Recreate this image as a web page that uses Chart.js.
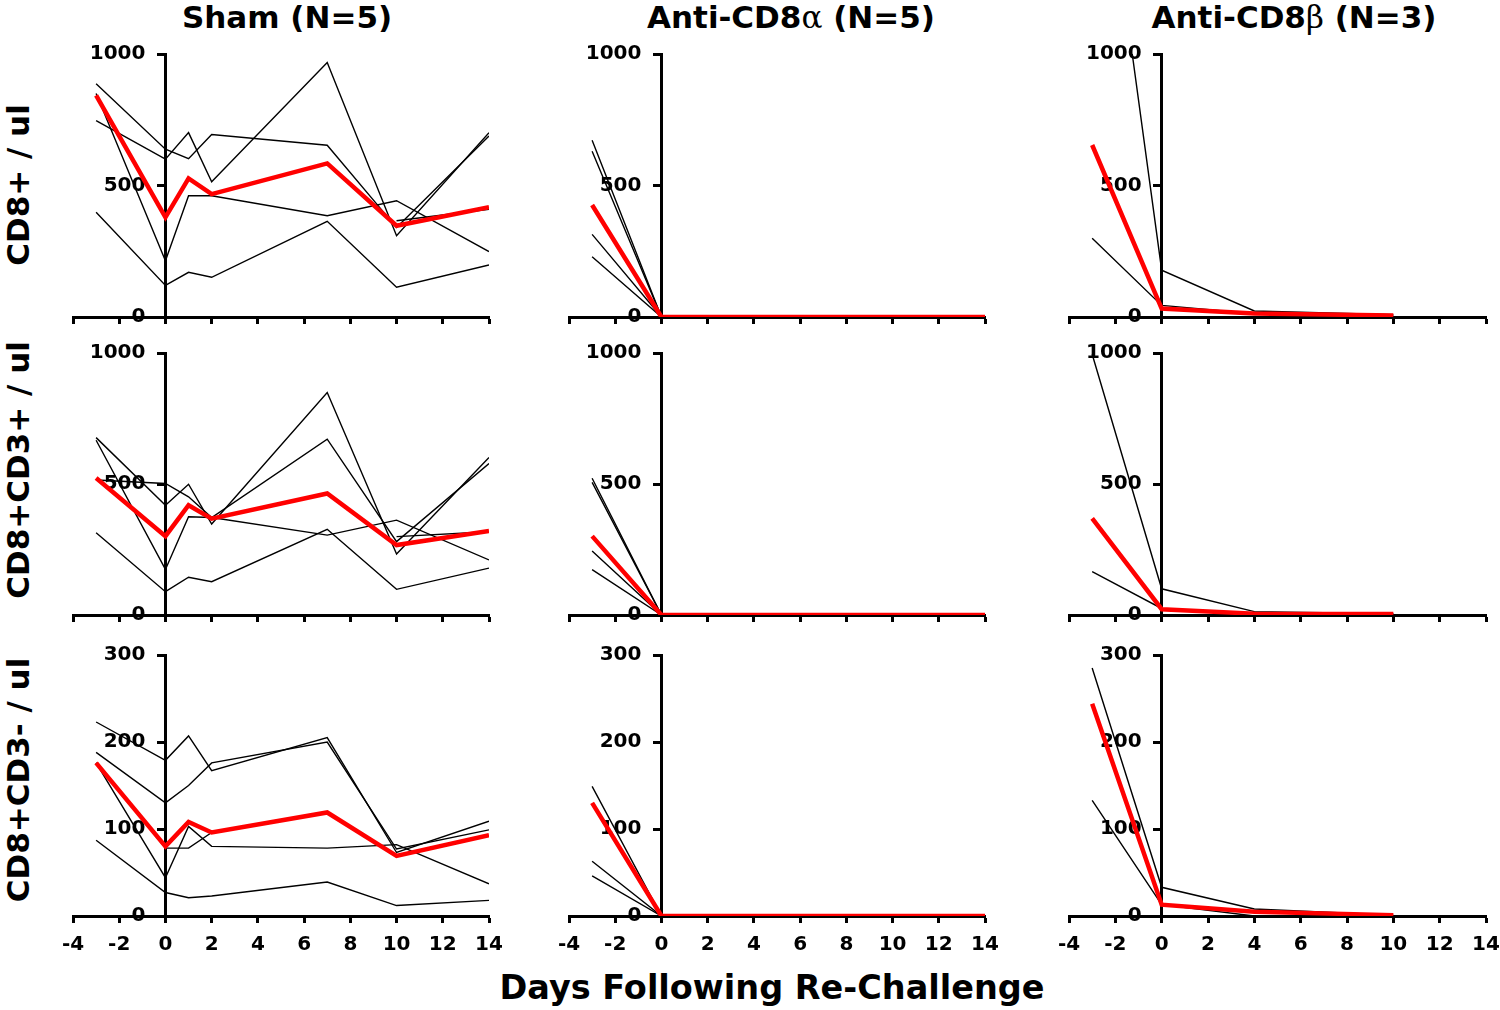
<!DOCTYPE html>
<html lang="en">
<head>
<meta charset="utf-8">
<title>CD8 depletion after re-challenge</title>
<script src="https://cdn.jsdelivr.net/npm/chart.js@4.4.1/dist/chart.umd.min.js"></script>
<style>
  html, body { margin: 0; padding: 0; background: #fff; }
  body { position: relative; width: 1500px; height: 1010px; overflow: hidden; font-family: "DejaVu Sans", sans-serif; color: #000; }
  .painel { position: absolute; left: 0; top: 0; width: 480px; height: 300px; }
  .texto { position: absolute; font-weight: bold; font-size: 31px; line-height: 1; white-space: nowrap; transform: translate(-50%, -50%); }
  .vertical { transform: translate(-50%, -50%) rotate(-90deg); }
  .grego { font-family: "DejaVu Serif", serif; font-weight: normal; }
</style>
</head>
<body>
<div class="texto" style="left:287px; top:17px">Sham (N=5)</div>
<div class="texto" style="left:791px; top:17px">Anti-CD8<span class="grego">α</span> (N=5)</div>
<div class="texto" style="left:1294px; top:17px">Anti-CD8<span class="grego">β</span> (N=3)</div>
<div class="texto vertical" style="left:18px; top:185px">CD8+ / ul</div>
<div class="texto vertical" style="left:18px; top:470px">CD8+CD3+ / ul</div>
<div class="texto vertical" style="left:18px; top:780px">CD8+CD3- / ul</div>
<div class="texto" style="left:772px; top:988px; font-size:33.5px">Days Following Re-Challenge</div>

<div class="painel" id="p11"><canvas></canvas></div>
<div class="painel" id="p12"><canvas></canvas></div>
<div class="painel" id="p13"><canvas></canvas></div>
<div class="painel" id="p21"><canvas></canvas></div>
<div class="painel" id="p22"><canvas></canvas></div>
<div class="painel" id="p23"><canvas></canvas></div>
<div class="painel" id="p31"><canvas></canvas></div>
<div class="painel" id="p32"><canvas></canvas></div>
<div class="painel" id="p33"><canvas></canvas></div>

<script>
// === DADOS ===
const diasSham = [-3, 0, 1, 2, 7, 10, 14];
const diasAlfa = [-3, 0, 1, 2, 7, 10, 14];
const diasBeta = [-3, 0, 4, 10];

const marcasX = [-4, -2, 0, 2, 4, 6, 8, 10, 12, 14];
const marcasMil = [0, 500, 1000];
const marcasTrezentos = [0, 100, 200, 300];

// Sham - CD8+
const shamCd8 = [
  [887, 638, 602, 694, 653, 340, 688],
  [747, 600, 701, 514, 968, 309, 701],
  [850, 214, 461, 461, 385, 442, 249],
  [398, 120, 170, 151, 364, 113, 198],
  [null, null, null, null, null, 366, 410]
];
const shamCd8Media = [843, 379, 527, 467, 584, 347, 417];

// Sham - CD8+CD3+
const shamCd3Pos = [
  [677, 419, 499, 347, 849, 233, 601],
  [515, 502, 451, 372, 671, 280, 578],
  [667, 174, 375, 372, 305, 362, 210],
  [314, 89, 144, 127, 327, 98, 179],
  [null, null, null, null, null, 299, 318]
];
const shamCd3PosMedia = [523, 301, 419, 368, 464, 267, 321];

// Sham - CD8+CD3-
const shamCd3Neg = [
  [223, 179, 207, 167, 205, 73, 109],
  [188, 130, 150, 176, 200, 77, 99],
  [176, 44, 103, 80, 78, 82, 37],
  [87, 27, 21, 23, 39, 12, 18],
  [176, 78, 78, 96, null, null, null]
];
const shamCd3NegMedia = [176, 80, 108, 96, 119, 69, 93];

// Anti-CD8 alfa
const alfaCd8 = [
  [672, 0, 0, 0, 0, 0, 0],
  [630, 0, 0, 0, 0, 0, 0],
  [314, 0, 0, 0, 0, 0, 0],
  [229, 0, 0, 0, 0, 0, 0]
];
const alfaCd8Media = [426, 0, 0, 0, 0, 0, 0];

const alfaCd3Pos = [
  [522, 0, 0, 0, 0, 0, 0],
  [506, 0, 0, 0, 0, 0, 0],
  [244, 0, 0, 0, 0, 0, 0],
  [173, 0, 0, 0, 0, 0, 0]
];
const alfaCd3PosMedia = [301, 0, 0, 0, 0, 0, 0];

const alfaCd3Neg = [
  [149, 0, 0, 0, 0, 0, 0],
  [63, 0, 0, 0, 0, 0, 0],
  [46, 0, 0, 0, 0, 0, 0]
];
const alfaCd3NegMedia = [130, 0, 0, 0, 0, 0, 0];

// Anti-CD8 beta
const betaCd8 = [
  [2120, 178, 23, 9],
  [299, 44, 13, 5]
];
const betaCd8Media = [654, 32, 13, 6];

const betaCd3Pos = [
  [995, 100, 13, 5],
  [166, 25, 6, 3]
];
const betaCd3PosMedia = [369, 22, 5, 4];

const betaCd3Neg = [
  [285, 33, 8, 1],
  [133, 13, 0, 0]
];
const betaCd3NegMedia = [244, 13, 5, 1];

// === LAYOUT DOS PAINEIS ===
const colunas = [{ esq: 73, dir: 489 }, { esq: 569, dir: 985 }, { esq: 1069, dir: 1486 }];
const linhas = [{ topo: 54, base: 317 }, { topo: 353, base: 615 }, { topo: 655, base: 916 }];

const paineis = [
  { id: 'p11', col: 0, lin: 0, dias: diasSham, animais: shamCd8, media: shamCd8Media, marcasY: marcasMil },
  { id: 'p12', col: 1, lin: 0, dias: diasAlfa, animais: alfaCd8, media: alfaCd8Media, marcasY: marcasMil },
  { id: 'p13', col: 2, lin: 0, dias: diasBeta, animais: betaCd8, media: betaCd8Media, marcasY: marcasMil },
  { id: 'p21', col: 0, lin: 1, dias: diasSham, animais: shamCd3Pos, media: shamCd3PosMedia, marcasY: marcasMil },
  { id: 'p22', col: 1, lin: 1, dias: diasAlfa, animais: alfaCd3Pos, media: alfaCd3PosMedia, marcasY: marcasMil },
  { id: 'p23', col: 2, lin: 1, dias: diasBeta, animais: betaCd3Pos, media: betaCd3PosMedia, marcasY: marcasMil },
  { id: 'p31', col: 0, lin: 2, dias: diasSham, animais: shamCd3Neg, media: shamCd3NegMedia, marcasY: marcasTrezentos },
  { id: 'p32', col: 1, lin: 2, dias: diasAlfa, animais: alfaCd3Neg, media: alfaCd3NegMedia, marcasY: marcasTrezentos },
  { id: 'p33', col: 2, lin: 2, dias: diasBeta, animais: betaCd3Neg, media: betaCd3NegMedia, marcasY: marcasTrezentos }
];

Chart.defaults.font.family = '"DejaVu Sans", sans-serif';
Chart.defaults.color = '#000';

function encaixar(grafico, caixa, alvo) {
  // move o canvas para que a area do grafico caia no lugar certo
  const area = grafico.chartArea;
  const margemEsq = area.left;
  const margemTopo = area.top;
  const margemDir = grafico.width - area.right;
  const margemBase = grafico.height - area.bottom;
  caixa.style.left = (alvo.esq - margemEsq) + 'px';
  caixa.style.top = (alvo.topo - margemTopo) + 'px';
  caixa.style.width = (alvo.dir - alvo.esq + margemEsq + margemDir) + 'px';
  caixa.style.height = (alvo.base - alvo.topo + margemTopo + margemBase) + 'px';
  grafico.resize();
}

function montarGrafico(p) {
  const caixa = document.getElementById(p.id);
  const canvas = caixa.querySelector('canvas');
  const mostrarRotulosX = p.lin === 2;

  // media em vermelho primeiro, para ficar por cima
  const conjuntos = [{
    data: p.dias.map((d, i) => ({ x: d, y: p.media[i] })),
    borderColor: '#ff0000',
    borderWidth: 4.5
  }];
  p.animais.forEach(valores => {
    conjuntos.push({
      data: p.dias.map((d, i) => ({ x: d, y: valores[i] })),
      borderColor: '#000',
      borderWidth: 1.4
    });
  });

  const fonteTick = { family: '"DejaVu Sans", sans-serif', size: 20, weight: 'bold' };

  const grafico = new Chart(canvas, {
    type: 'line',
    data: { datasets: conjuntos },
    options: {
      responsive: true,
      maintainAspectRatio: false,
      animation: false,
      layout: { padding: { top: 16, left: 24, right: 24, bottom: 2 } },
      elements: {
        point: { radius: 0 },
        line: { tension: 0, borderCapStyle: 'butt', borderJoinStyle: 'miter' }
      },
      plugins: { legend: { display: false }, tooltip: { enabled: false } },
      scales: {
        x: {
          type: 'linear',
          min: -4,
          max: 14,
          afterBuildTicks: escala => { escala.ticks = marcasX.map(v => ({ value: v })); },
          ticks: {
            display: mostrarRotulosX, color: '#000', font: fonteTick, padding: 10,
            maxRotation: 0, autoSkip: false,
            callback: valor => String(valor)
          },
          grid: { drawOnChartArea: false, drawTicks: true, tickLength: 7, tickWidth: 3, tickColor: '#000' },
          border: { display: true, color: '#000', width: 3 }
        },
        y: {
          type: 'linear',
          min: 0,
          max: p.marcasY[p.marcasY.length - 1],
          position: { x: 0 },
          afterBuildTicks: escala => { escala.ticks = p.marcasY.map(v => ({ value: v })); },
          ticks: {
            color: '#000', font: fonteTick,
            // espaco no fim afasta o rotulo do eixo
            callback: valor => String(valor) + '\u2002\u2002'
          },
          grid: { drawOnChartArea: false, tickLength: 7, tickWidth: 3, tickColor: '#000' },
          border: { display: true, color: '#000', width: 3 }
        }
      }
    }
  });

  const alvo = {
    esq: colunas[p.col].esq,
    dir: colunas[p.col].dir,
    topo: linhas[p.lin].topo,
    base: linhas[p.lin].base
  };
  encaixar(grafico, caixa, alvo);
}

paineis.forEach(montarGrafico);
</script>
</body>
</html>
